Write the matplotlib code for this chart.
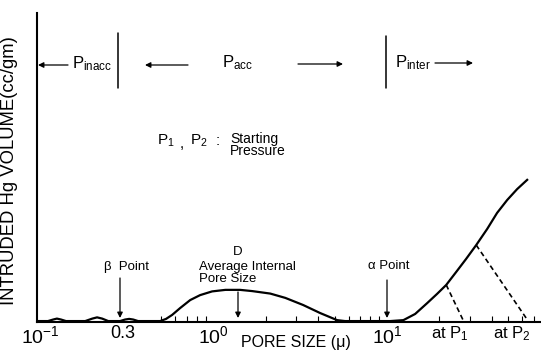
import matplotlib.pyplot as plt
from matplotlib.ticker import FixedLocator

plt.rcParams['font.family'] = ['Liberation Sans', 'DejaVu Sans']
plt.rcParams['mathtext.fontset'] = 'custom'
plt.rcParams['mathtext.rm'] = 'Liberation Sans'
plt.rcParams['mathtext.it'] = 'Liberation Sans'
plt.rcParams['mathtext.bf'] = 'Liberation Sans:bold'

# intrusion curve (pore size in micron, volume in arbitrary units)
pore_size = [0.097, 0.111, 0.119, 0.125, 0.132, 0.141, 0.182, 0.200, 0.213, 0.228,
             0.247, 0.289, 0.309, 0.326, 0.344, 0.367, 0.492, 0.532, 0.577, 0.641,
             0.733, 0.836, 0.98, 1.17, 1.42, 1.67, 2.12, 2.59, 3.28, 4.11,
             5.15, 5.72, 10.4, 12.4, 14.5, 17.0, 19.4, 21.9, 25.0, 28.5,
             32.6, 37.7, 43.0, 49.2, 56.1, 64.1]
volume = [0.3, 0.3, 0.8, 1.1, 0.8, 0.3, 0.3, 1.1, 1.5, 1.1,
          0.3, 0.3, 0.8, 1.0, 0.8, 0.3, 0.3, 1.0, 2.3, 4.5,
          7.1, 8.7, 9.9, 10.4, 10.4, 10.0, 9.2, 7.8, 5.5, 2.9,
          0.6, 0.3, 0.3, 0.6, 2.6, 6.1, 9.1, 12.0, 16.2, 20.4,
          24.9, 30.1, 35.3, 39.5, 43.0, 46.0]

# dashed construction lines from the curve down to the axis
dash1_x = [21.9, 27.4]
dash1_y = [12.0, 0.6]
dash2_x = [32.6, 64.1]
dash2_y = [24.9, 0.8]

tick_pos = [0.1, 0.3, 1, 10, 23, 52]
tick_labels = ['$10^{-1}$', '0.3', '$10^{0}$', '$10^{1}$', 'at P$_{1}$', 'at P$_{2}$']
tick_sizes = [14, 13, 14, 14, 12, 12]

W, H = 541, 351
fig = plt.figure(figsize=(W / 100, H / 100), dpi=100)
ax = fig.add_axes([37 / W, 1 - 322 / H, 503 / W, 309 / H])


def fp(x, y):
    # picture pixel -> figure fraction
    return (x / W, 1 - y / H)


ax.plot(pore_size, volume, color='black', lw=1.6)
ax.plot(dash1_x, dash1_y, color='black', lw=1.2, ls=(0, (3, 2)))
ax.plot(dash2_x, dash2_y, color='black', lw=1.2, ls=(0, (3, 2)))

ax.set_xscale('log')
ax.set_xlim(0.096, 76)
ax.set_ylim(0, 100)
ax.spines['top'].set_visible(False)
ax.spines['right'].set_visible(False)
ax.spines['left'].set_linewidth(1.5)
ax.spines['bottom'].set_linewidth(1.5)
ax.set_yticks([])

ax.set_xticks(tick_pos)
ax.set_xticklabels(tick_labels)
for lab, s in zip(ax.get_xticklabels(), tick_sizes):
    lab.set_fontsize(s)
minor = [k * 10.0 ** d for d in (-1, 0, 1) for k in range(1, 10)]
minor = [v for v in minor if 0.5 <= v <= 72]
ax.xaxis.set_minor_locator(FixedLocator(minor))
ax.tick_params(axis='x', which='major', length=0, pad=2)
ax.tick_params(axis='x', which='minor', direction='in', length=4, width=0.8,
               labelbottom=False)

ax.set_ylabel('INTRUDED Hg VOLUME(cc/gm)', fontsize=13.3)
ax.yaxis.set_label_coords(-19 / 503, 0.49)

arrow = dict(arrowstyle='-|>', color='black', lw=0.9, mutation_scale=8,
             shrinkA=0, shrinkB=0)
line = dict(arrowstyle='-', color='black', lw=1.1, shrinkA=0, shrinkB=0)


def arr(x0, y0, x1, y1, props=arrow):
    ax.annotate('', xy=fp(x1, y1), xytext=fp(x0, y0),
                xycoords='figure fraction', textcoords='figure fraction',
                arrowprops=props)


def txt(x, y, s, size=11, ha='left', **kw):
    fig.text(*fp(x, y), s, fontsize=size, ha=ha, va='center', **kw)


# pressure regions along the top
arr(68, 65, 38, 65)
txt(72, 64, 'P$_{\\mathrm{inacc}}$', 12)
arr(118, 33, 118, 88, line)
arr(188, 65, 145, 65)
txt(238, 63, 'P$_{\\mathrm{acc}}$', 12, ha='center')
arr(298, 64, 343, 64)
arr(386, 36, 386, 88, line)
txt(395, 63, 'P$_{\\mathrm{inter}}$', 12)
arr(435, 63, 473, 63)

# note on P1, P2
txt(157, 141, 'P$_{1}$', 11)
txt(180, 144, ',', 11)
txt(190, 141, 'P$_{2}$', 11)
txt(216, 141, ':', 11)
txt(230, 145, 'Starting\nPressure', 10, linespacing=0.85)

# points on the curve
txt(104, 267, '\u03b2  Point', 9.5)
arr(120, 278, 120, 318)
txt(238, 252, 'D', 9.5, ha='center')
txt(199, 273, 'Average Internal\nPore Size', 9.5, linespacing=0.95)
arr(238, 292, 238, 318)
txt(368, 266, '\u03b1 Point', 9.5)
arr(387, 280, 387, 318)

txt(241, 342, 'PORE SIZE (\u03bc)', 11.5)

plt.savefig('out.png', dpi=100)
